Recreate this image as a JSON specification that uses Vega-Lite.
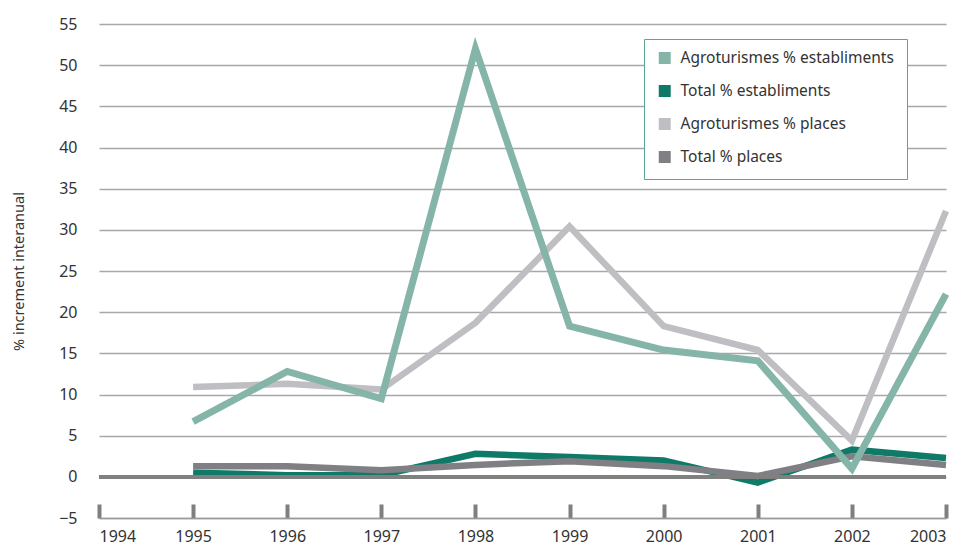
{
  "$schema": "https://vega.github.io/schema/vega-lite/v6.json",
  "width": 847,
  "height": 494,
  "padding": {"left": 11, "top": 16, "right": 0, "bottom": 2},
  "background": "white",
  "config": {
    "font": "Noto Sans",
    "view": {"stroke": null},
    "axis": {"labelFontSize": 16, "labelColor": "#333333", "titleFontSize": 14.5, "titleColor": "#333333", "titleFontWeight": "normal"},
    "line": {"strokeWidth": 6.5, "strokeJoin": "miter"}
  },
  "data": {
    "values": [
      {"year": 1995, "series": "Agroturismes % establiments", "value": 6.7},
      {"year": 1996, "series": "Agroturismes % establiments", "value": 12.8},
      {"year": 1997, "series": "Agroturismes % establiments", "value": 9.5},
      {"year": 1998, "series": "Agroturismes % establiments", "value": 52.0},
      {"year": 1999, "series": "Agroturismes % establiments", "value": 18.3},
      {"year": 2000, "series": "Agroturismes % establiments", "value": 15.4},
      {"year": 2001, "series": "Agroturismes % establiments", "value": 14.1},
      {"year": 2002, "series": "Agroturismes % establiments", "value": 1.0},
      {"year": 2003, "series": "Agroturismes % establiments", "value": 22.2},
      {"year": 1995, "series": "Total % establiments", "value": 0.5},
      {"year": 1996, "series": "Total % establiments", "value": 0.2},
      {"year": 1997, "series": "Total % establiments", "value": 0.2},
      {"year": 1998, "series": "Total % establiments", "value": 2.8},
      {"year": 1999, "series": "Total % establiments", "value": 2.4},
      {"year": 2000, "series": "Total % establiments", "value": 2.0},
      {"year": 2001, "series": "Total % establiments", "value": -0.7},
      {"year": 2002, "series": "Total % establiments", "value": 3.3},
      {"year": 2003, "series": "Total % establiments", "value": 2.3},
      {"year": 1995, "series": "Agroturismes % places", "value": 10.9},
      {"year": 1996, "series": "Agroturismes % places", "value": 11.3},
      {"year": 1997, "series": "Agroturismes % places", "value": 10.6},
      {"year": 1998, "series": "Agroturismes % places", "value": 18.7},
      {"year": 1999, "series": "Agroturismes % places", "value": 30.4},
      {"year": 2000, "series": "Agroturismes % places", "value": 18.3},
      {"year": 2001, "series": "Agroturismes % places", "value": 15.4},
      {"year": 2002, "series": "Agroturismes % places", "value": 4.4},
      {"year": 2003, "series": "Agroturismes % places", "value": 32.3},
      {"year": 1995, "series": "Total % places", "value": 1.3},
      {"year": 1996, "series": "Total % places", "value": 1.3},
      {"year": 1997, "series": "Total % places", "value": 0.8},
      {"year": 1998, "series": "Total % places", "value": 1.45},
      {"year": 1999, "series": "Total % places", "value": 1.9},
      {"year": 2000, "series": "Total % places", "value": 1.3},
      {"year": 2001, "series": "Total % places", "value": 0.1},
      {"year": 2002, "series": "Total % places", "value": 2.5},
      {"year": 2003, "series": "Total % places", "value": 1.45}
    ]
  },
  "encoding": {
    "x": {
      "field": "year", "type": "quantitative",
      "scale": {"domain": [1994, 2003], "nice": false, "zero": false},
      "axis": {
        "title": null, "values": [1994, 1995, 1996, 1997, 1998, 1999, 2000, 2001, 2002, 2003],
        "format": "d", "grid": false,
        "tickSize": -14, "tickWidth": 4, "tickColor": "#7f7f7f",
        "domainColor": "#9a9a9a", "domainWidth": 1.5,
        "labelPadding": 24
      }
    },
    "y": {
      "field": "value", "type": "quantitative",
      "scale": {"domain": [-5, 55], "nice": false, "zero": false},
      "axis": {
        "title": "% increment interanual",
        "values": [-5, 0, 5, 10, 15, 20, 25, 30, 35, 40, 45, 50, 55],
        "grid": true, "gridColor": "#a8a8a8", "gridWidth": 1.5,
        "domain": false, "ticks": false, "labelPadding": 22, "titlePadding": 32
      }
    },
    "color": {
      "field": "series", "type": "nominal",
      "scale": {
        "domain": ["Agroturismes % establiments", "Total % establiments", "Agroturismes % places", "Total % places"],
        "range": ["#85b5a8", "#0f7a67", "#bfbfc3", "#7f7f84"]
      },
      "legend": {
        "title": null, "orient": "none", "legendX": 545, "legendY": 15,
        "strokeColor": "#5ba597", "fillColor": "white",
        "padding": 13, "symbolType": "square", "symbolSize": 30,
        "symbolOpacity": 1, "clipHeight": 12,
        "labelFontSize": 15.5, "labelColor": "#333333", "labelOffset": 8,
        "rowPadding": 17, "labelLimit": 400
      }
    }
  },
  "layer": [
    {
      "transform": [{"filter": "datum.series === 'Agroturismes % places'"}],
      "mark": {"type": "line"}
    },
    {
      "transform": [{"filter": "datum.series === 'Total % establiments'"}],
      "mark": {"type": "line"}
    },
    {
      "transform": [{"filter": "datum.series === 'Total % places'"}],
      "mark": {"type": "line"}
    },
    {
      "transform": [{"filter": "datum.series === 'Agroturismes % establiments'"}],
      "mark": {"type": "line", "strokeWidth": 7}
    },
    {
      "mark": {"type": "rule", "color": "#808080", "strokeWidth": 3},
      "encoding": {"y": {"datum": 0}, "x": {"datum": 1994}, "x2": {"datum": 2003}, "color": {"value": "#808080"}}
    }
  ]
}
